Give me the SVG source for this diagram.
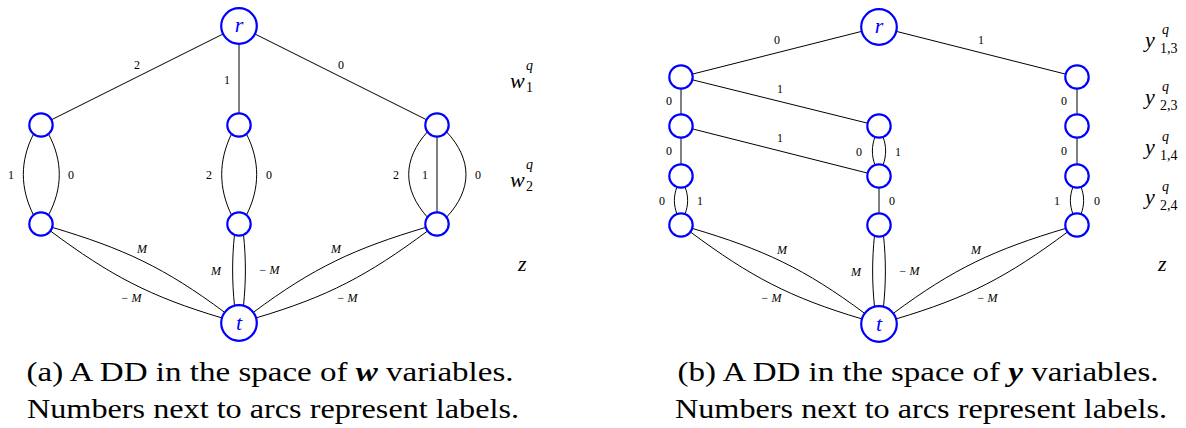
<svg xmlns="http://www.w3.org/2000/svg" width="1186" height="428" viewBox="0 0 1186 428">
<style>
.node circle{fill:#fff;stroke:#0000ff;stroke-width:2.2}
.edges path,.edges line{fill:none;stroke:#000;stroke-width:1}
.d{font-family:"Liberation Serif","Times New Roman",serif;font-size:12px;text-anchor:middle;fill:#000}
.m{font-family:"Liberation Serif","Times New Roman",serif;font-style:italic;font-size:12px;text-anchor:middle;fill:#000}
.v{font-family:"Liberation Serif","Times New Roman",serif;font-style:italic;font-size:22px;fill:#000}
.s{font-family:"Liberation Serif","Times New Roman",serif;font-size:14px;fill:#000}
.si{font-family:"Liberation Serif","Times New Roman",serif;font-style:italic;font-size:14px;fill:#000}
.nl{font-family:"Liberation Serif","Times New Roman",serif;font-style:italic;font-size:22px;fill:#0000ff;text-anchor:middle}
.cap{font-family:"Liberation Serif","Times New Roman",serif;font-size:27px;text-anchor:middle;fill:#000}
</style>
<rect width="1186" height="428" fill="#fff"/>
<g class="edges" id="connectors">
  <line x1="223.1" y1="33.96" x2="51.46" y2="119.77"/>
  <line x1="239" y1="43.8" x2="239" y2="113.3"/>
  <line x1="254.9" y1="33.96" x2="426.54" y2="119.77"/>
  <path d="M33.6 133.8 C19.9 160.8 19.9 188.2 33.6 215.2"/>
  <path d="M48.4 133.8 C62.9 160.8 62.9 188.2 48.4 215.2"/>
  <path d="M231.6 133.8 C218.4 160.8 218.4 188.2 231.6 215.2"/>
  <path d="M246.4 133.8 C260.1 160.8 260.1 188.2 246.4 215.2"/>
  <path d="M427.6 131.6 C402.4 159.6 402.4 189.4 427.6 217.4"/>
  <path d="M446.4 131.6 C472.5 159.6 472.5 189.4 446.4 217.4"/>
  <line x1="437" y1="136.7" x2="437" y2="212.3"/>
  <path d="M52 227.3 C124.2 248.8 164.1 267.4 224.55 312.27"/>
  <path d="M50.24 230.85 C110.7 275.7 149.6 296.4 221.75 317.87"/>
  <path d="M426 227.3 C353.8 248.8 313.9 267.4 253.45 312.27"/>
  <path d="M427.76 230.85 C367.3 275.7 328.4 296.4 256.25 317.87"/>
  <path d="M234.5 234.6 C232 258 232 282 234.5 305.6"/>
  <path d="M243.5 234.6 C246 258 246 282 243.5 305.6"/>
  <line x1="861.55" y1="31.4" x2="692.15" y2="74.18"/>
  <line x1="896.45" y1="31.4" x2="1065.85" y2="74.18"/>
  <line x1="692.16" y1="79.76" x2="867.84" y2="123.24"/>
  <line x1="692.15" y1="128.82" x2="867.85" y2="173.18"/>
  <line x1="681" y1="88.7" x2="681" y2="114.3"/>
  <line x1="681" y1="137.7" x2="681" y2="164.3"/>
  <path d="M677 186.8 C673.5 196 673.5 205 677 214.2"/>
  <path d="M685 186.8 C688.5 196 688.5 205 685 214.2"/>
  <path d="M875 136.8 C871.5 146.3 871.5 155.7 875 165.2"/>
  <path d="M883 136.8 C886.5 146.3 886.5 155.7 883 165.2"/>
  <line x1="879" y1="187.7" x2="879" y2="213.3"/>
  <line x1="1077" y1="88.7" x2="1077" y2="114.3"/>
  <line x1="1077" y1="137.7" x2="1077" y2="164.3"/>
  <path d="M1073 186.8 C1069.5 196 1069.5 205 1073 214.2"/>
  <path d="M1081 186.8 C1084.5 196 1084.5 205 1081 214.2"/>
  <path d="M692 228.3 C764.2 249.8 804.1 268.4 864.55 313.27"/>
  <path d="M690.24 231.85 C750.7 276.7 789.6 297.4 861.75 318.87"/>
  <path d="M1066 228.3 C993.8 249.8 953.9 268.4 893.45 313.27"/>
  <path d="M1067.76 231.85 C1007.3 276.7 968.4 297.4 896.25 318.87"/>
  <path d="M874.5 235.6 C872 259 872 283 874.5 306.6"/>
  <path d="M883.5 235.6 C886 259 886 283 883.5 306.6"/>
</g>
<g id="edge-labels">
  <text class="d" x="137" y="69">2</text>
  <text class="d" x="227" y="84">1</text>
  <text class="d" x="341" y="69">0</text>
  <text class="d" x="11" y="179">1</text>
  <text class="d" x="71" y="179">0</text>
  <text class="d" x="209" y="179">2</text>
  <text class="d" x="269" y="179">0</text>
  <text class="d" x="396" y="179">2</text>
  <text class="d" x="425" y="179">1</text>
  <text class="d" x="478" y="179">0</text>
  <text class="m" x="142" y="253">M</text>
  <text class="m" x="131" y="302">− M</text>
  <text class="m" x="216" y="275">M</text>
  <text class="m" x="269" y="274">− M</text>
  <text class="m" x="336" y="253">M</text>
  <text class="m" x="347" y="302">− M</text>
  <text class="d" x="777" y="44">0</text>
  <text class="d" x="981" y="44">1</text>
  <text class="d" x="780" y="93">1</text>
  <text class="d" x="780" y="142">1</text>
  <text class="d" x="669" y="105">0</text>
  <text class="d" x="669" y="155">0</text>
  <text class="d" x="662" y="205">0</text>
  <text class="d" x="700" y="205">1</text>
  <text class="d" x="859" y="156">0</text>
  <text class="d" x="898" y="156">1</text>
  <text class="d" x="892" y="205">0</text>
  <text class="d" x="1064" y="105">0</text>
  <text class="d" x="1064" y="155">0</text>
  <text class="d" x="1057" y="205">1</text>
  <text class="d" x="1097" y="205">0</text>
  <text class="m" x="782" y="254">M</text>
  <text class="m" x="771" y="302">− M</text>
  <text class="m" x="856" y="276">M</text>
  <text class="m" x="909" y="275">− M</text>
  <text class="m" x="976" y="254">M</text>
  <text class="m" x="987" y="302">− M</text>
</g>
<g class="node" id="a-r"><circle cx="239" cy="26" r="17.8"/><text class="nl" x="239" y="32">r</text></g>
<g class="node" id="a-n1"><circle cx="41" cy="125" r="11.7"/></g>
<g class="node" id="a-n2"><circle cx="239" cy="125" r="11.7"/></g>
<g class="node" id="a-n3"><circle cx="437" cy="125" r="11.7"/></g>
<g class="node" id="a-n4"><circle cx="41" cy="224" r="11.7"/></g>
<g class="node" id="a-n5"><circle cx="239" cy="224" r="11.7"/></g>
<g class="node" id="a-n6"><circle cx="437" cy="224" r="11.7"/></g>
<g class="node" id="a-t"><circle cx="239" cy="323" r="17.8"/><text class="nl" x="239" y="330">t</text></g>
<g class="node" id="b-r"><circle cx="879" cy="27" r="17.8"/><text class="nl" x="879" y="33">r</text></g>
<g class="node" id="b-l1"><circle cx="681" cy="77" r="11.7"/></g>
<g class="node" id="b-l2"><circle cx="681" cy="126" r="11.7"/></g>
<g class="node" id="b-l3"><circle cx="681" cy="176" r="11.7"/></g>
<g class="node" id="b-l4"><circle cx="681" cy="225" r="11.7"/></g>
<g class="node" id="b-m1"><circle cx="879" cy="126" r="11.7"/></g>
<g class="node" id="b-m2"><circle cx="879" cy="176" r="11.7"/></g>
<g class="node" id="b-m3"><circle cx="879" cy="225" r="11.7"/></g>
<g class="node" id="b-r1"><circle cx="1077" cy="77" r="11.7"/></g>
<g class="node" id="b-r2"><circle cx="1077" cy="126" r="11.7"/></g>
<g class="node" id="b-r3"><circle cx="1077" cy="176" r="11.7"/></g>
<g class="node" id="b-r4"><circle cx="1077" cy="225" r="11.7"/></g>
<g class="node" id="b-t"><circle cx="879" cy="324" r="17.8"/><text class="nl" x="879" y="331">t</text></g>
<g id="var-labels">
  <text class="v" x="510" y="88">w</text><text class="si" x="526" y="70">q</text><text class="s" x="526" y="92">1</text>
  <text class="v" x="510" y="187">w</text><text class="si" x="526" y="169">q</text><text class="s" x="526" y="191">2</text>
  <text class="v" x="518" y="271">z</text>
  <text class="v" x="1145" y="47">y</text><text class="si" x="1162" y="34">q</text><text class="s" x="1160" y="53">1,3</text>
  <text class="v" x="1145" y="104">y</text><text class="si" x="1162" y="91">q</text><text class="s" x="1160" y="110">2,3</text>
  <text class="v" x="1145" y="154">y</text><text class="si" x="1162" y="141">q</text><text class="s" x="1160" y="160">1,4</text>
  <text class="v" x="1145" y="204">y</text><text class="si" x="1162" y="191">q</text><text class="s" x="1160" y="210">2,4</text>
  <text class="v" x="1158" y="271">z</text>
</g>
<g id="captions">
  <text class="cap" x="270" y="381" textLength="487" lengthAdjust="spacingAndGlyphs">(a) A DD in the space of <tspan font-weight="bold" font-style="italic">w</tspan> variables.</text>
  <text class="cap" x="273" y="418" textLength="492" lengthAdjust="spacingAndGlyphs">Numbers next to arcs represent labels.</text>
  <text class="cap" x="918" y="381" textLength="481" lengthAdjust="spacingAndGlyphs">(b) A DD in the space of <tspan font-weight="bold" font-style="italic">y</tspan> variables.</text>
  <text class="cap" x="921" y="418" textLength="492" lengthAdjust="spacingAndGlyphs">Numbers next to arcs represent labels.</text>
</g>
</svg>
